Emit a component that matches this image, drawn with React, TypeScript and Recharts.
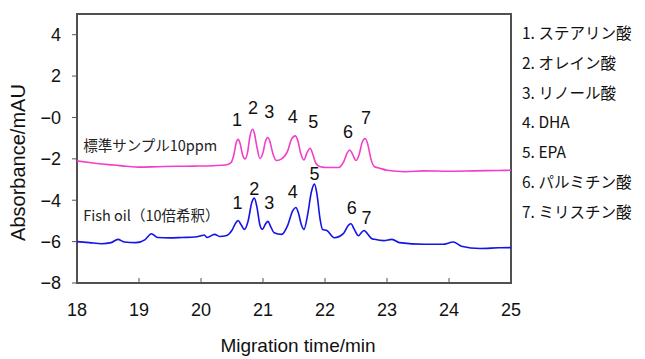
import {
	Line,
	LineChart,
	ReferenceArea,
	Scatter,
	XAxis,
	YAxis,
} from 'recharts';

// migration time (min) / absorbance (mAU)
const standardTime = [
	18.0, 18.2, 18.4, 18.6, 18.8, 19.0, 19.3, 19.6, 19.9, 20.2, 20.4, 20.48,
	20.53, 20.57, 20.6, 20.63, 20.67, 20.71, 20.75, 20.79, 20.83, 20.86, 20.9,
	20.95, 21.0, 21.04, 21.08, 21.11, 21.16, 21.22, 21.3, 21.4, 21.46, 21.52,
	21.56, 21.61, 21.66, 21.71, 21.76, 21.8, 21.85, 21.92, 22.05, 22.22, 22.3,
	22.36, 22.4, 22.44, 22.5, 22.55, 22.6, 22.65, 22.69, 22.74, 22.8, 22.88,
	23.0, 23.3, 23.6, 24.0, 24.4, 24.8, 25.0,
];
const standardAbs = [
	-2.1, -2.18, -2.25, -2.3, -2.36, -2.4, -2.38, -2.36, -2.35, -2.33, -2.3,
	-2.2, -1.8, -1.2, -1.05, -1.25, -1.8, -2.0, -1.7, -0.9, -0.57, -0.75, -1.4,
	-1.98, -1.7, -1.15, -0.97, -1.15, -1.75, -2.08, -2.0, -1.6, -1.05, -0.89,
	-1.1, -1.75, -2.05, -1.7, -1.49, -1.75, -2.2, -2.38, -2.42, -2.42, -2.15,
	-1.7, -1.57, -1.75, -2.08, -1.8, -1.2, -1.02, -1.3, -2.0, -2.38, -2.45,
	-2.55, -2.62, -2.58, -2.6, -2.58, -2.56, -2.55,
];

const fishTime = [
	18.0, 18.2, 18.4, 18.55, 18.66, 18.76, 18.95, 19.1, 19.2, 19.3, 19.5, 19.7,
	19.9, 20.0, 20.05, 20.1, 20.22, 20.3, 20.4, 20.5, 20.56, 20.6, 20.64, 20.7,
	20.76, 20.82, 20.86, 20.9, 20.95, 20.99, 21.04, 21.08, 21.12, 21.18, 21.3,
	21.4, 21.48, 21.53, 21.57, 21.62, 21.66, 21.72, 21.78, 21.83, 21.87, 21.92,
	21.96, 22.03, 22.15, 22.3, 22.38, 22.42, 22.47, 22.54, 22.59, 22.63, 22.68,
	22.75, 22.8, 22.95, 23.08, 23.2, 23.6, 23.9, 24.07, 24.2, 24.5, 24.8, 25.0,
];
const fishAbs = [
	-6.0, -6.05, -6.1, -6.05, -5.89, -6.02, -6.05, -5.9, -5.62, -5.8, -5.82,
	-5.8, -5.78, -5.72, -5.68, -5.8, -5.65, -5.75, -5.72, -5.45, -5.1, -4.98,
	-5.15, -5.41, -5.0, -4.1, -3.9, -4.3, -5.2, -5.41, -5.15, -5.02, -5.25,
	-5.57, -5.65, -5.2, -4.5, -4.35, -4.6, -5.2, -5.41, -4.7, -3.6, -3.22,
	-3.7, -4.9, -5.41, -5.46, -5.81, -5.6, -5.2, -5.14, -5.4, -5.72, -5.55,
	-5.46, -5.6, -5.85, -5.89, -5.95, -5.89, -6.05, -6.13, -6.13, -6.02, -6.22,
	-6.33, -6.3, -6.29,
];

// peak numbers: where they sit above each trace
const peakNames = ['1', '2', '3', '4', '5', '6', '7'];
const standardPeakTime = [20.58, 20.84, 21.1, 21.48, 21.81, 22.37, 22.66];
const standardPeakAbs = [-0.1, 0.48, 0.29, 0.05, -0.19, -0.67, 0.0];
const fishPeakTime = [20.59, 20.86, 21.1, 21.48, 21.83, 22.43, 22.67];
const fishPeakAbs = [-4.14, -3.46, -4.14, -3.59, -2.71, -4.38, -4.86];

const traceNames = ['標準サンプル10ppm', 'Fish oil（10倍希釈）'];
const traceNameTime = [18.1, 18.1];
const traceNameAbs = [-1.38, -4.76];

const compounds = [
	'1. ステアリン酸',
	'2. オレイン酸',
	'3. リノール酸',
	'4. DHA',
	'5. EPA',
	'6. パルミチン酸',
	'7. ミリスチン酸',
];

const xTicks = [18, 19, 20, 21, 22, 23, 24, 25];
const yTicks = [-8, -6, -4, -2, 0, 2, 4];

const zip = (ts: number[], vs: number[]) => ts.map((t, i) => ({ t, v: vs[i] }));
const standardData = zip(standardTime, standardAbs);
const fishData = zip(fishTime, fishAbs);
const standardPeaks = zip(standardPeakTime, standardPeakAbs).map((p, i) => ({
	...p,
	label: peakNames[i],
}));
const fishPeaks = zip(fishPeakTime, fishPeakAbs).map((p, i) => ({
	...p,
	label: peakNames[i],
}));
const traceLabels = zip(traceNameTime, traceNameAbs).map((p, i) => ({
	...p,
	label: traceNames[i],
}));

const latin = "'Liberation Sans', Arial, sans-serif";
const jp = "'Noto Sans CJK JP', sans-serif";

const fmtY = (v: number) => (v > 0 ? String(v) : '−' + Math.abs(v));

const PeakText = (props: any) => (
	<text
		x={props.cx}
		y={props.cy}
		dy="0.35em"
		textAnchor="middle"
		fontFamily={latin}
		fontSize={18}
		fill="#111"
	>
		{props.payload.label}
	</text>
);

const TraceText = (props: any) => (
	<text
		x={props.cx}
		y={props.cy}
		dy="0.35em"
		textAnchor="start"
		fontFamily={jp}
		fontSize={14.5}
		fill="#222"
	>
		{props.payload.label}
	</text>
);

const XTick = (props: any) => (
	<g>
		<line x1={props.x} x2={props.x} y1={props.y} y2={props.y - 5} stroke="#555" />
		<text
			x={props.x}
			y={props.y + 27}
			dy="0.35em"
			textAnchor="middle"
			fontFamily={latin}
			fontSize={18}
			fill="#111"
		>
			{props.payload.value}
		</text>
	</g>
);

const XTitle = (props: any) => {
	const vb = props.viewBox;
	return (
		<text
			x={vb.x + vb.width / 2 + 4}
			y={vb.y + 62}
			dy="0.35em"
			textAnchor="middle"
			fontFamily={latin}
			fontSize={19}
			fill="#111"
		>
			Migration time/min
		</text>
	);
};

const YTitle = (props: any) => {
	const vb = props.viewBox;
	const cx = 18;
	const cy = vb.y + vb.height / 2 + 14;
	return (
		<text
			x={cx}
			y={cy}
			dy="0.35em"
			textAnchor="middle"
			transform={`rotate(-90, ${cx}, ${cy})`}
			fontFamily={latin}
			fontSize={20}
			fill="#111"
		>
			Absorbance/mAU
		</text>
	);
};

export default function App() {
	return (
		<div style={{ position: 'absolute', left: 0, top: 0, width: 645, height: 359, background: '#fff' }}>
			<LineChart
				width={645}
				height={359}
				margin={{ top: 14, right: 134, bottom: 46, left: 27 }}
			>
				<XAxis
					type="number"
					dataKey="t"
					domain={[18, 25]}
					ticks={xTicks}
					allowDataOverflow
					axisLine={false}
					tickLine={false}
					tickSize={0}
					tickMargin={0}
					height={30}
					tick={<XTick />}
					label={<XTitle />}
				/>
				<YAxis
					type="number"
					dataKey="v"
					domain={[-8, 5]}
					ticks={yTicks}
					allowDataOverflow
					width={50}
					axisLine={false}
					tickSize={5}
					tickMargin={11}
					tickLine={{ stroke: '#555' }}
					tickFormatter={fmtY}
					tick={{ fontSize: 18, fontFamily: latin, fill: '#111' }}
					label={<YTitle />}
				/>
				<ReferenceArea
					x1={18}
					x2={25}
					y1={-8}
					y2={5}
					fill="none"
					stroke="#505050"
					strokeWidth={2}
				/>
				<Line
					data={standardData}
					dataKey="v"
					type="monotone"
					stroke="#f23ec8"
					strokeWidth={1.6}
					dot={false}
					isAnimationActive={false}
				/>
				<Line
					data={fishData}
					dataKey="v"
					type="monotone"
					stroke="#1414e6"
					strokeWidth={1.6}
					dot={false}
					isAnimationActive={false}
				/>
				<Scatter data={standardPeaks} dataKey="v" shape={<PeakText />} isAnimationActive={false} />
				<Scatter data={fishPeaks} dataKey="v" shape={<PeakText />} isAnimationActive={false} />
				<Scatter data={traceLabels} dataKey="v" shape={<TraceText />} isAnimationActive={false} />
			</LineChart>
			<div
				style={{
					position: 'absolute',
					left: 522,
					top: 18,
					fontFamily: jp,
					fontSize: 15.5,
					lineHeight: '29.8px',
					color: '#111',
				}}
			>
				{compounds.map((c) => (
					<div key={c}>{c}</div>
				))}
			</div>
		</div>
	);
}
